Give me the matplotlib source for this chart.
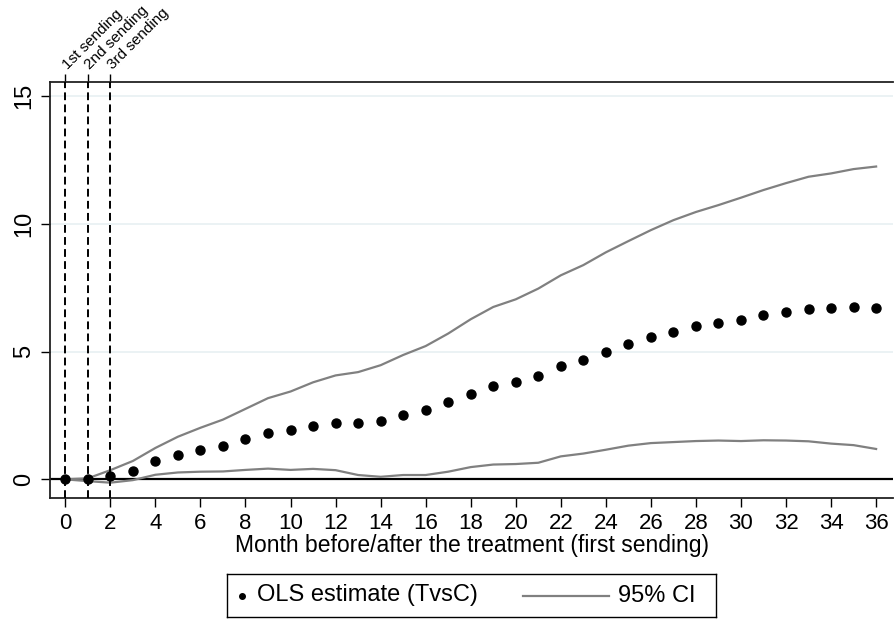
import numpy as np
import matplotlib
matplotlib.use("Agg")
import matplotlib.pyplot as plt

plt.rcParams['font.family'] = ['Liberation Sans', 'DejaVu Sans']

# months after first sending
months = list(range(0, 37))
ols = [0.00, 0.00, 0.12, 0.33, 0.71, 0.94, 1.14, 1.32, 1.57, 1.80, 1.92, 2.10, 2.21,
       2.19, 2.30, 2.53, 2.70, 3.01, 3.35, 3.64, 3.83, 4.06, 4.43, 4.69, 4.99, 5.30,
       5.56, 5.78, 5.99, 6.14, 6.25, 6.44, 6.54, 6.66, 6.70, 6.74, 6.71]
ci_hi = [0.00, 0.04, 0.36, 0.72, 1.23, 1.67, 2.02, 2.34, 2.76, 3.18, 3.44, 3.80, 4.07,
         4.20, 4.47, 4.87, 5.22, 5.71, 6.27, 6.75, 7.05, 7.47, 7.99, 8.39, 8.89, 9.33,
         9.76, 10.15, 10.47, 10.74, 11.03, 11.33, 11.60, 11.85, 11.98, 12.15, 12.25]
ci_lo = [0.00, -0.07, -0.13, -0.03, 0.18, 0.27, 0.30, 0.31, 0.37, 0.42, 0.37, 0.41, 0.36,
         0.17, 0.10, 0.17, 0.17, 0.30, 0.48, 0.58, 0.60, 0.65, 0.90, 1.01, 1.16, 1.32,
         1.42, 1.46, 1.50, 1.52, 1.50, 1.53, 1.52, 1.49, 1.40, 1.34, 1.19]
sendings = [0, 1, 2]
sending_labels = ["1st sending", "2nd sending", "3rd sending"]

W, H = 896, 619
fig = plt.figure(figsize=(W / 100, H / 100), dpi=100)
ax = fig.add_axes([50 / W, (H - 498) / H, (893 - 50) / W, (498 - 82) / H])

for yv in [5, 10, 15]:
    ax.axhline(yv, color="#e8f0f2", lw=1.2, zorder=0)
ax.axhline(0, color="black", lw=1.6, zorder=1)

ax.plot(months, ci_hi, color="#808080", lw=1.6, zorder=2)
ax.plot(months, ci_lo, color="#808080", lw=1.6, zorder=2)
ax.plot(months, ols, "o", color="black", ms=6.5, zorder=4)

for s in sendings:
    ax.axvline(s, color="black", lw=1.4, ls=(0, (4, 2.2)), zorder=3)

ax.set_xlim(-0.68, 36.75)
ax.set_ylim(-0.73, 15.56)
ax.set_xticks(range(0, 37, 2))
ax.set_yticks([0, 5, 10, 15])
ax.tick_params(axis="x", labelsize=16, length=6.5, width=1, pad=4)
ax.tick_params(axis="y", labelsize=17, length=6.5, width=1, pad=4)
for lab in ax.get_yticklabels():
    lab.set_rotation(90)
    lab.set_va("center")
ax.set_xlabel("Month before/after the treatment (first sending)", fontsize=16.5, labelpad=0)

ax.spines["right"].set_visible(False)
for sp in ["top", "left", "bottom"]:
    ax.spines[sp].set_linewidth(1.3)
    ax.spines[sp].set_color("#222222")

# short ticks above the frame for the three sendings
top = ax.secondary_xaxis("top")
top.set_xticks(sendings)
top.set_xticklabels([])
top.tick_params(length=6, width=1)
top.spines["top"].set_visible(False)
for s, lab in zip(sendings, sending_labels):
    ax.annotate(lab, xy=(s, 1), xycoords=("data", "axes fraction"),
                xytext=(1.5, 8.5), textcoords="offset points",
                rotation=45, ha="left", va="baseline", rotation_mode="anchor",
                fontsize=11, annotation_clip=False)

# legend box below the axis title
lx0, lx1, ly0, ly1 = 227, 716, 574, 617
lax = fig.add_axes([lx0 / W, (H - ly1) / H, (lx1 - lx0) / W, (ly1 - ly0) / H])
lax.set_xlim(lx0, lx1)
lax.set_ylim(ly1, ly0)
lax.set_xticks([])
lax.set_yticks([])
for sp in lax.spines.values():
    sp.set_linewidth(1.0)
    sp.set_color("black")
ym = (ly0 + ly1) / 2
lax.plot([242], [ym], "o", color="black", ms=4)
lax.text(257, ym, "OLS estimate (TvsC)", fontsize=17, va="center", ha="left")
lax.plot([523, 609], [ym, ym], color="#808080", lw=1.6)
lax.text(618, ym, "95% CI", fontsize=17, va="center", ha="left")

fig.savefig("out.png", dpi=100)
